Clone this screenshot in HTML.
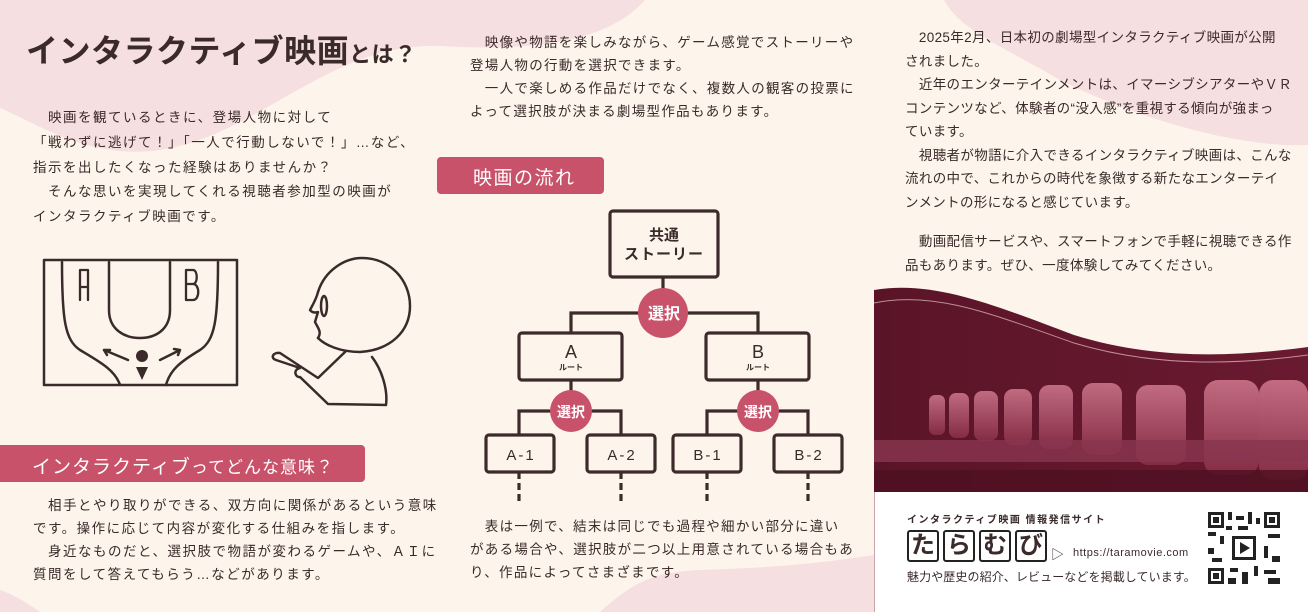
<!DOCTYPE html>
<html><head><meta charset="utf-8"><style>
*{margin:0;padding:0;box-sizing:border-box}
body{width:1308px;height:612px;overflow:hidden;background:#fdf5ec;position:relative;font-family:"Liberation Sans","Noto Sans CJK JP",sans-serif;color:#3a2a2a}
.t{position:absolute;font-size:13.5px;line-height:23px;letter-spacing:1.5px;white-space:nowrap}
.band{position:absolute;background:#c9526b;color:#fff;border-radius:4px}
</style></head><body>
<svg style="position:absolute;left:0;top:0" width="1308" height="612">
<path d="M0,0 H645 C610,40 540,52 440,46 C330,42 260,135 160,150 C90,160 40,125 0,108 Z" fill="#f6dfe0"/>
<path d="M944,0 H1308 V145 C1240,148 1140,120 1060,80 C1000,45 960,30 944,0 Z" fill="#f6dfe0"/>
<path d="M600,612 C630,585 650,572 700,570 C760,568 810,565 874,555 V612 Z" fill="#f6dfe0"/>
<path d="M0,590 C15,595 30,605 40,612 H0 Z" fill="#f6dfe0"/>
</svg>

<div style="position:absolute;left:26px;top:26px;font-size:32px;font-weight:bold;letter-spacing:0.5px;color:#3a2a2a">インタラクティブ映画<span style="font-size:22px">とは？</span></div>

<div class="t" style="left:33px;top:106px;line-height:24.8px">　映画を観ているときに、登場人物に対して<br>「戦わずに逃げて！」「一人で行動しないで！」…など、<br>指示を出したくなった経験はありませんか？<br>　そんな思いを実現してくれる視聴者参加型の映画が<br>インタラクティブ映画です。</div>

<svg style="position:absolute;left:0;top:240px" width="440" height="200" fill="none" stroke="#3a2a2a" stroke-width="2.5" stroke-linejoin="round" stroke-linecap="round">
<rect x="44" y="20" width="193" height="125"/>
<path d="M62,22 C62,80 65,100 80,110 C100,122 115,130 120,145"/>
<path d="M218,22 C218,80 215,100 200,110 C180,122 170,130 166,145"/>
<path d="M109,22 V70 C109,90 125,98 140,98 C155,98 170,90 170,70 V22"/>
<path d="M80,60 V30 H88 V60 M80,47 H88" stroke-width="2.3"/>
<path d="M186,60 V30 H193 C198,30 198,44 193,44 H186 M193,44 C200,44 200,60 193,60 H186" stroke-width="2.3"/>
<circle cx="142" cy="116" r="6" fill="#3a2a2a" stroke="none"/>
<path d="M136,127 H148 L142,140 Z" fill="#3a2a2a" stroke="none"/>
<path d="M128,120 L104,110 M104,110 l6,0 M104,110 l3,5"/>
<path d="M160,120 L180,110 M180,110 l-6,-1 M180,110 l-2,5"/>
<path d="M318,52 C325,30 345,18 362,18 C390,18 410,40 410,66 C410,92 390,110 360,112 C340,112 325,105 318,98"/>
<path d="M318,52 C316,60 312,66 310,70 C313,74 318,72 318,72 L315,82 C318,88 322,92 318,98"/>
<ellipse cx="324" cy="66" rx="3" ry="10"/>
<path d="M345,112 L318,138 L280,113 C273,112 270,118 276,120 L300,128 C292,130 296,138 300,137 L328,164 L386,165 C388,150 382,130 372,117"/>
</svg>

<div class="band" style="left:-4px;top:445px;width:369px;height:37px;font-size:19px;padding:7px 0 0 36px;letter-spacing:1px">インタラクティブ<span style="font-size:17px">ってどんな意味？</span></div>
<div class="t" style="left:33px;top:494px">　相手とやり取りができる、双方向に関係があるという意味<br>です。操作に応じて内容が変化する仕組みを指します。<br>　身近なものだと、選択肢で物語が変わるゲームや、ＡＩに<br>質問をして答えてもらう…などがあります。</div>

<div class="t" style="left:470px;top:31px;letter-spacing:1.3px">　映像や物語を楽しみながら、ゲーム感覚でストーリーや<br>登場人物の行動を選択できます。<br>　一人で楽しめる作品だけでなく、複数人の観客の投票に<br>よって選択肢が決まる劇場型作品もあります。</div>

<div class="band" style="left:437px;top:157px;width:167px;height:37px;font-size:19px;padding:6px 0 0 36px;letter-spacing:1.5px">映画の流れ</div>

<svg style="position:absolute;left:0;top:0" width="900" height="612" fill="none" stroke="#3d2b2b" stroke-width="3.2">
<path d="M663,277 V313 M571,333 V313 H758 V333 M571,380 V411 M519,435 V411 H621 V435 M758,380 V411 M707,435 V411 H808 V435"/>
<rect x="610" y="211" width="108" height="66" rx="3" fill="#fdf5ec"/>
<rect x="519" y="333" width="103" height="47" rx="3" fill="#fdf5ec"/>
<rect x="706" y="333" width="103" height="47" rx="3" fill="#fdf5ec"/>
<rect x="486" y="435" width="68" height="37" rx="3" fill="#fdf5ec"/>
<rect x="587" y="435" width="68" height="37" rx="3" fill="#fdf5ec"/>
<rect x="673" y="435" width="68" height="37" rx="3" fill="#fdf5ec"/>
<rect x="774" y="435" width="68" height="37" rx="3" fill="#fdf5ec"/>
<path d="M519,472 V503 M621,472 V503 M707,472 V503 M808,472 V503" stroke-dasharray="7,4"/>
<circle cx="663" cy="313" r="25" fill="#c9526b" stroke="none"/>
<circle cx="571" cy="411" r="21" fill="#c9526b" stroke="none"/>
<circle cx="758" cy="411" r="21" fill="#c9526b" stroke="none"/>
<g font-family="Liberation Sans,Noto Sans CJK JP,sans-serif" stroke="none" text-anchor="middle" font-weight="bold">
<text x="664" y="319" fill="#fff" font-size="16">選択</text>
<text x="571" y="417" fill="#fff" font-size="14">選択</text>
<text x="758" y="417" fill="#fff" font-size="14">選択</text>
<text x="664" y="240" fill="#3a2a2a" font-size="15">共通</text>
<text x="664" y="259" fill="#3a2a2a" font-size="15" letter-spacing="1">ストーリー</text>
<text x="571" y="358" fill="#3a2a2a" font-size="18" font-weight="normal">A</text>
<text x="571" y="370" fill="#3a2a2a" font-size="8">ルート</text>
<text x="758" y="358" fill="#3a2a2a" font-size="18" font-weight="normal">B</text>
<text x="758" y="370" fill="#3a2a2a" font-size="8">ルート</text>
<g font-weight="normal" font-size="15" fill="#3a2a2a" letter-spacing="2">
<text x="521" y="460">A-1</text><text x="622" y="460">A-2</text><text x="708" y="460">B-1</text><text x="809" y="460">B-2</text>
</g></g>
</svg>

<div class="t" style="left:470px;top:515px;letter-spacing:1.3px">　表は一例で、結末は同じでも過程や細かい部分に違い<br>がある場合や、選択肢が二つ以上用意されている場合もあ<br>り、作品によってさまざまです。</div>

<div class="t" style="left:905px;top:26px;line-height:23.5px;letter-spacing:0.35px">　2025年2月、日本初の劇場型インタラクティブ映画が公開<br>されました。<br>　近年のエンターテインメントは、イマーシブシアターやＶＲ<br>コンテンツなど、体験者の“没入感”を重視する傾向が強まっ<br>ています。<br>　視聴者が物語に介入できるインタラクティブ映画は、こんな<br>流れの中で、これからの時代を象徴する新たなエンターテイ<br>ンメントの形になると感じています。</div>
<div class="t" style="left:905px;top:230px;line-height:24px;letter-spacing:0.35px">　動画配信サービスや、スマートフォンで手軽に視聴できる作<br>品もあります。ぜひ、一度体験してみてください。</div>

<svg style="position:absolute;left:874px;top:285px" width="434" height="207">
<defs><linearGradient id="g" x1="0" y1="0" x2="1" y2="0"><stop offset="0" stop-color="#5a1428"/><stop offset="1" stop-color="#6a1a30"/></linearGradient>
<linearGradient id="s" x1="0" y1="0" x2="0" y2="1"><stop offset="0" stop-color="#d27a90"/><stop offset="1" stop-color="#8a3048"/></linearGradient></defs>
<path d="M0,5 C60,-5 120,20 200,50 C280,75 360,72 434,62 V207 H0 Z" fill="url(#g)"/>
<path d="M0,18 C60,5 120,30 200,58 C280,82 360,80 434,70" stroke="#e8c0c8" stroke-width="1" fill="none" opacity=".7"/>
<g fill="url(#s)" opacity=".85">
<rect x="55" y="110" width="16" height="40" rx="6"/><rect x="75" y="108" width="20" height="45" rx="7"/><rect x="100" y="106" width="24" height="50" rx="8"/><rect x="130" y="104" width="28" height="56" rx="9"/><rect x="165" y="100" width="34" height="64" rx="10"/><rect x="208" y="98" width="40" height="72" rx="11"/><rect x="262" y="100" width="50" height="80" rx="12"/><rect x="330" y="95" width="55" height="95" rx="14"/><rect x="385" y="95" width="49" height="100" rx="14"/>
</g>
<g fill="#8a3650" opacity=".8"><rect x="0" y="155" width="434" height="22"/><rect x="0" y="185" width="434" height="22" fill="#4e1022"/></g>
</svg>

<div style="position:absolute;left:874px;top:492px;width:434px;height:120px;background:#fff;border-left:1.5px solid #c8a6ac"></div>
<div style="position:absolute;left:907px;top:511px;font-size:10px;letter-spacing:1.5px;font-weight:bold">インタラクティブ映画 情報発信サイト</div>
<div style="position:absolute;left:907px;top:530px;display:flex;gap:4px">
<span style="border:2px solid #222;border-radius:3px;width:32px;height:32px;font-size:24px;font-weight:bold;text-align:center;line-height:28px">た</span>
<span style="border:2px solid #222;border-radius:3px;width:32px;height:32px;font-size:24px;font-weight:bold;text-align:center;line-height:28px">ら</span>
<span style="border:2px solid #222;border-radius:3px;width:32px;height:32px;font-size:24px;font-weight:bold;text-align:center;line-height:28px">む</span>
<span style="border:2px solid #222;border-radius:3px;width:32px;height:32px;font-size:24px;font-weight:bold;text-align:center;line-height:28px">び</span>
<span style="font-size:13px;margin-top:14px">▷</span></div>
<div style="position:absolute;left:1073px;top:547px;font-size:11px;letter-spacing:.5px">https://taramovie.com</div>
<div style="position:absolute;left:907px;top:568px;font-size:12px;letter-spacing:0.1px">魅力や歴史の紹介、レビューなどを掲載しています。</div>
<svg style="position:absolute;left:1208px;top:512px" width="72" height="72">
<rect width="72" height="72" fill="#fff"/>
<g fill="#222"><rect x="0" y="0" width="16" height="16"/><rect x="56" y="0" width="16" height="16"/><rect x="0" y="56" width="16" height="16"/></g>
<g fill="#fff"><rect x="3" y="3" width="10" height="10"/><rect x="59" y="3" width="10" height="10"/><rect x="3" y="59" width="10" height="10"/></g>
<g fill="#222"><rect x="5" y="5" width="6" height="6"/><rect x="61" y="5" width="6" height="6"/><rect x="5" y="61" width="6" height="6"/>
<rect x="20" y="0" width="4" height="8"/><rect x="28" y="4" width="8" height="4"/><rect x="40" y="0" width="4" height="12"/><rect x="48" y="6" width="4" height="6"/>
<rect x="0" y="20" width="8" height="4"/><rect x="12" y="24" width="4" height="8"/><rect x="0" y="36" width="6" height="6"/><rect x="4" y="46" width="10" height="4"/>
<rect x="24" y="24" width="24" height="24"/><rect x="60" y="22" width="12" height="4"/><rect x="56" y="34" width="4" height="12"/><rect x="64" y="44" width="8" height="6"/>
<rect x="22" y="56" width="8" height="4"/><rect x="34" y="60" width="6" height="12"/><rect x="46" y="54" width="4" height="10"/><rect x="56" y="58" width="12" height="4"/><rect x="60" y="66" width="12" height="6"/><rect x="20" y="66" width="8" height="6"/><rect x="18" y="14" width="6" height="4"/><rect x="30" y="14" width="10" height="4"/></g>
<rect x="27" y="27" width="18" height="18" fill="#fff"/><path d="M32,30 L42,36 L32,42 Z" fill="#222"/>
</svg>
</body></html>
